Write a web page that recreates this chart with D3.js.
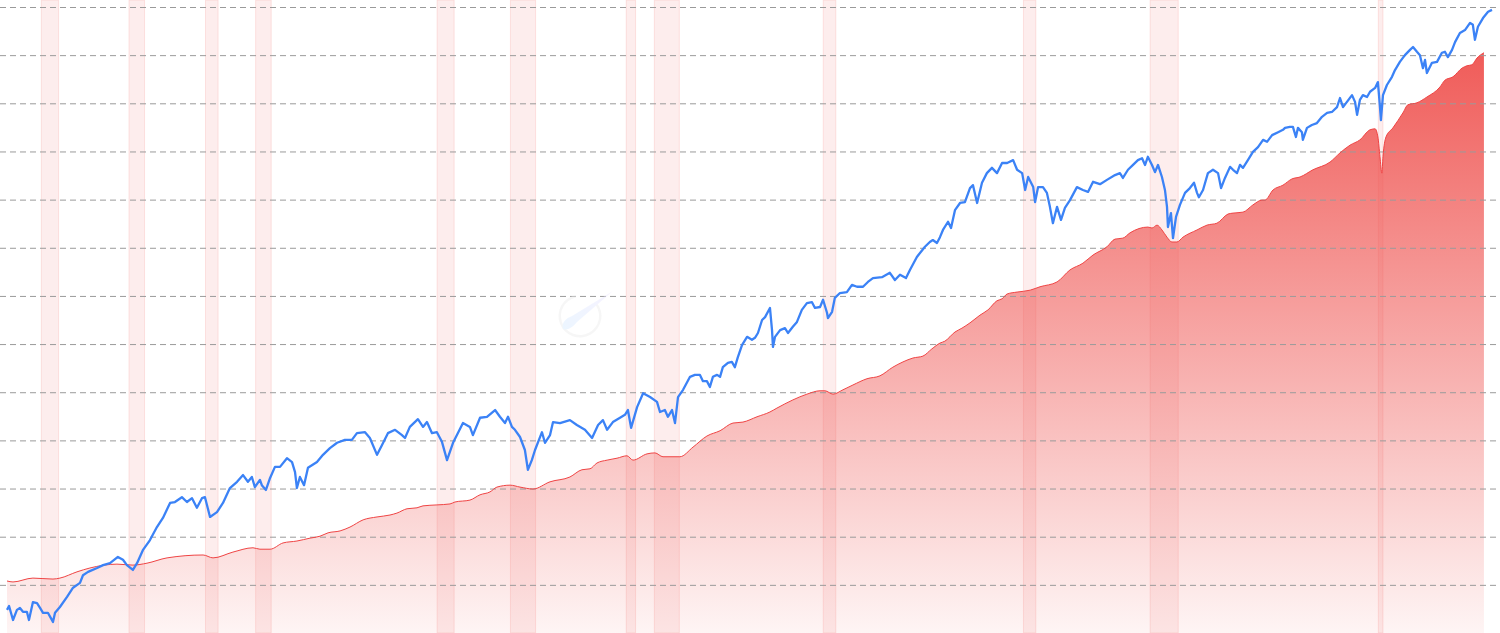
<!DOCTYPE html>
<html>
<head>
<meta charset="utf-8">
<script src="https://cdn.jsdelivr.net/npm/d3@7"></script>
<style>
  html, body { margin: 0; padding: 0; background: #ffffff; }
  svg { display: block; }
</style>
</head>
<body>
<svg id="chart" width="1500" height="633"></svg>
<script>
// ---- Data ----
// Recession periods (decimal years)
const recessionStart = [1948.83, 1953.50, 1957.58, 1960.25, 1969.92, 1973.83, 1980.00, 1981.50, 1990.50, 2001.17, 2007.92, 2020.08];
const recessionEnd   = [1949.75, 1954.33, 1958.25, 1961.08, 1970.83, 1975.17, 1980.50, 1982.83, 1991.17, 2001.83, 2009.42, 2020.33];

// Gridline tick values (hidden axis units)
const gridTicks = [100, 200, 300, 400, 500, 600, 700, 800, 900, 1000, 1100, 1200, 1300];

// Blue series (index line)
const blueYears = [1947.00,1947.11,1947.32,1947.53,1947.69,1947.85,1948.06,1948.17,1948.38,1948.60,
1948.76,1948.92,1949.18,1949.45,1949.56,1949.82,1950.20,1950.52,1950.89,1951.05,
1951.32,1951.80,1952.12,1952.49,1952.91,1953.18,1953.39,1953.71,1953.93,1954.24,
1954.62,1954.99,1955.31,1955.69,1955.95,1956.32,1956.59,1956.86,1957.12,1957.39,
1957.55,1957.82,1958.19,1958.51,1958.88,1959.26,1959.58,1959.84,1960.05,1960.21,
1960.48,1960.58,1960.80,1961.02,1961.28,1961.55,1961.92,1962.19,1962.35,1962.45,
1962.61,1962.83,1963.04,1963.52,1963.84,1964.21,1964.59,1965.01,1965.38,1965.65,
1966.08,1966.34,1966.72,1966.98,1967.30,1967.68,1968.05,1968.21,1968.47,1968.90,
1969.17,1969.38,1969.65,1969.91,1970.18,1970.45,1970.77,1971.30,1971.67,1971.83,
1972.21,1972.58,1973.01,1973.27,1973.54,1973.70,1973.91,1974.07,1974.34,1974.60,
1974.76,1974.97,1975.14,1975.51,1975.67,1975.94,1976.10,1976.47,1977.00,1977.37,
1977.80,1978.18,1978.50,1978.76,1978.98,1979.29,1979.67,1979.93,1980.09,1980.26,
1980.58,1980.90,1981.27,1981.64,1981.80,1982.06,1982.22,1982.44,1982.60,1982.76,
1983.03,1983.40,1983.66,1983.93,1984.09,1984.30,1984.46,1984.62,1984.84,1985.00,
1985.15,1985.42,1985.63,1985.79,1985.95,1986.17,1986.44,1986.70,1986.86,1987.02,
1987.24,1987.40,1987.66,1987.77,1987.82,1987.93,1988.20,1988.46,1988.62,1988.88,
1989.10,1989.36,1989.63,1989.90,1990.06,1990.33,1990.49,1990.70,1990.75,1990.97,
1991.12,1991.39,1991.76,1992.03,1992.30,1992.62,1992.88,1993.15,1993.63,1994.05,
1994.32,1994.59,1994.91,1995.12,1995.49,1995.92,1996.18,1996.34,1996.56,1996.72,
1996.88,1997.15,1997.31,1997.52,1997.79,1998.05,1998.32,1998.48,1998.70,1998.96,
1999.22,1999.49,1999.76,2000.03,2000.30,2000.62,2000.83,2001.10,2001.26,2001.42,
2001.69,2001.79,2001.95,2002.21,2002.42,2002.58,2002.74,2002.96,2003.17,2003.38,
2003.65,2004.02,2004.34,2004.61,2004.88,2005.25,2005.62,2006.05,2006.31,2006.47,
2006.74,2007.01,2007.27,2007.49,2007.65,2007.80,2008.02,2008.18,2008.34,2008.55,
2008.71,2008.82,2008.87,2009.03,2009.14,2009.30,2009.51,2009.78,2010.04,2010.26,
2010.42,2010.52,2010.74,2011.00,2011.27,2011.54,2011.70,2011.91,2012.18,2012.34,
2012.55,2012.71,2012.87,2013.13,2013.40,2013.67,2013.94,2014.15,2014.42,2014.74,
2015.00,2015.11,2015.37,2015.53,2015.69,2015.80,2016.01,2016.06,2016.28,2016.54,
2016.81,2017.08,2017.35,2017.61,2017.88,2018.04,2018.20,2018.41,2018.68,2018.84,
2018.95,2019.10,2019.26,2019.48,2019.64,2019.91,2020.06,2020.17,2020.22,2020.33,
2020.54,2020.81,2020.97,2021.23,2021.50,2021.77,2021.93,2022.14,2022.30,2022.46,
2022.57,2022.67,2022.94,2023.21,2023.47,2023.63,2023.79,2024.01,2024.17,2024.43,
2024.70,2024.97,2025.12,2025.23,2025.39,2025.66,2025.93,2026.14];

const blueValues = [48,56,27,48,52,44,44,27,64,62,
52,42,42,23,42,54,75,94,104,120,
127,135,141,145,158,152,141,131,145,172,
193,220,239,270,272,282,272,280,260,280,
282,241,251,270,301,314,328,314,324,303,
318,307,297,322,345,345,363,355,334,301,
324,307,343,355,370,384,395,401,401,415,
417,405,370,390,415,422,411,405,428,444,
428,438,415,417,397,359,395,436,428,411,
447,449,463,449,436,449,428,422,407,380,
339,359,380,417,395,411,438,436,442,432,
422,405,432,442,422,438,447,453,463,426,
469,498,490,480,459,463,449,463,436,490,
505,532,536,536,523,523,511,532,536,532,
552,561,563,552,573,598,615,609,613,623,
650,656,675,629,594,615,629,633,623,636,
646,671,685,687,675,677,692,665,654,667,
696,706,708,723,719,719,729,737,739,748,
733,744,737,754,781,802,812,816,810,822,
837,854,841,878,893,895,924,930,893,935,
955,966,955,976,976,982,962,955,920,947,
926,895,926,926,914,885,851,885,858,883,
899,926,920,916,937,932,941,951,955,945,
962,972,982,986,972,989,972,957,972,947,
920,885,843,872,820,864,889,914,924,935,
914,905,920,955,962,955,924,945,968,962,
955,972,966,982,999,1009,1024,1020,1034,1040,
1045,1049,1051,1051,1030,1049,1040,1024,1049,1055,
1059,1072,1080,1082,1092,1111,1092,1103,1117,1103,
1076,1107,1117,1113,1124,1132,1144,1092,1065,1117,
1138,1155,1169,1186,1200,1211,1217,1207,1200,1173,
1190,1163,1184,1186,1205,1207,1196,1211,1227,1246,
1252,1267,1263,1232,1259,1277,1290,1294];

// Red series (area)
const redYears = [1947.00,1947.32,1948.38,1949.45,1949.82,1950.73,1951.42,1952.86,1953.71,1954.46,
1955.53,1957.45,1957.98,1959.04,1960.11,1960.48,1961.02,1961.71,1962.45,1963.15,
1963.68,1964.11,1964.75,1965.28,1965.98,1966.72,1967.41,1967.78,1968.32,1968.85,
1969.17,1969.91,1970.61,1970.87,1971.67,1972.21,1972.74,1973.11,1973.81,1974.34,
1975.03,1975.94,1977.00,1977.64,1978.07,1978.44,1978.98,1979.51,1980.04,1980.36,
1981.11,1981.53,1981.96,1982.86,1983.56,1984.30,1985.00,1985.69,1986.22,1986.97,
1987.66,1988.03,1988.88,1989.63,1990.33,1990.59,1991.02,1991.55,1992.08,1992.83,
1993.52,1994.21,1994.75,1995.28,1995.81,1996.29,1996.72,1996.98,1997.52,1997.89,
1998.32,1998.85,1999.28,1999.76,2000.03,2000.30,2000.83,2001.53,2002.05,2002.96,
2003.65,2004.34,2004.88,2005.62,2006.05,2006.47,2006.85,2007.80,2008.02,2008.29,
2008.55,2008.82,2009.08,2009.35,2009.67,2010.42,2010.95,2011.48,2012.07,2012.34,
2012.87,2013.40,2013.88,2014.04,2014.47,2015.00,2015.48,2015.91,2016.60,2017.51,
2018.04,2018.57,2019.10,2019.64,2019.91,2020.06,2020.17,2020.27,2020.33,2020.49,
2020.86,2021.39,2021.66,2022.14,2022.67,2023.37,2023.63,2024.06,2024.54,2024.81,
2025.07,2025.34,2025.71];

const redValues = [108,106,114,112,114,127,135,143,141,145,
156,162,156,168,177,174,174,187,191,197,
201,208,212,220,235,241,245,249,258,260,
264,266,268,272,276,287,293,303,307,303,
299,314,324,339,341,353,359,363,368,359,
372,374,366,366,386,409,420,436,438,449,
459,467,484,496,503,503,496,505,515,528,
534,552,563,571,575,590,602,606,625,633,
644,660,671,690,694,704,708,712,719,729,
754,768,785,802,818,820,831,843,841,847,
837,822,812,812,822,837,847,851,870,872,
874,889,899,899,920,930,943,947,962,978,
997,1013,1024,1045,1047,1030,989,955,989,1030,
1049,1080,1097,1101,1113,1134,1148,1155,1173,1178,
1180,1194,1205];

// ---- Chart ----
const W = 1500, H = 633;
const svg = d3.select('#chart');

const x = d3.scaleLinear().domain([1947, 2026.14]).range([7, 1492]);
const y = d3.scaleLinear().domain([0, 1300]).range([633, 7]);

const blue = d3.zip(blueYears, blueValues);
const red = d3.zip(redYears, redValues);
const recessions = d3.zip(recessionStart, recessionEnd);

const defs = svg.append('defs');
const grad = defs.append('linearGradient')
  .attr('id', 'redFill')
  .attr('gradientUnits', 'userSpaceOnUse')
  .attr('x1', 0).attr('x2', 0)
  .attr('y1', y(d3.max(redValues))).attr('y2', H);
grad.append('stop').attr('offset', '0%').attr('stop-color', '#ef5350').attr('stop-opacity', 0.95);
grad.append('stop').attr('offset', '100%').attr('stop-color', '#ef5350').attr('stop-opacity', 0.06);

const wmGrad = defs.append('linearGradient')
  .attr('id', 'wmGrad').attr('x1', '0%').attr('y1', '100%').attr('x2', '100%').attr('y2', '0%');
wmGrad.append('stop').attr('offset', '0%').attr('stop-color', '#d6ecff');
wmGrad.append('stop').attr('offset', '100%').attr('stop-color', '#ece4ff');

// Recession bands
svg.append('g').selectAll('rect')
  .data(recessions)
  .join('rect')
  .attr('x', d => x(d[0]))
  .attr('y', 0)
  .attr('width', d => x(d[1]) - x(d[0]))
  .attr('height', H)
  .attr('fill', 'rgba(239,83,80,0.10)')
  .attr('stroke', 'rgba(239,83,80,0.14)')
  .attr('stroke-width', 1);

// Red area
const area = d3.area()
  .x(d => x(d[0]))
  .y0(H)
  .y1(d => y(d[1]))
  .curve(d3.curveMonotoneX);
svg.append('path').datum(red)
  .attr('d', area)
  .attr('fill', 'url(#redFill)');

// Gridlines
const gridAxis = d3.axisLeft(y).tickValues(gridTicks).tickSize(-W).tickFormat('');
const gg = svg.append('g').attr('transform', 'translate(0,0)').call(gridAxis);
gg.select('.domain').remove();
gg.selectAll('.tick line')
  .attr('stroke', '#9a9a9a')
  .attr('stroke-width', 1)
  .attr('stroke-dasharray', '6,4');

// Red line
const redLine = d3.line()
  .x(d => x(d[0]))
  .y(d => y(d[1]))
  .curve(d3.curveMonotoneX);
svg.append('path').datum(red)
  .attr('d', redLine)
  .attr('fill', 'none')
  .attr('stroke', '#ef4444')
  .attr('stroke-width', 1);

// Blue line
const blueLine = d3.line()
  .x(d => x(d[0]))
  .y(d => y(d[1]));
svg.append('path').datum(blue)
  .attr('d', blueLine)
  .attr('fill', 'none')
  .attr('stroke', '#3b82f6')
  .attr('stroke-width', 2.3)
  .attr('stroke-linejoin', 'round');

// Faint watermark logo
const wm = svg.append('g').attr('opacity', 0.45);
wm.append('path')
  .attr('d', d3.arc()({innerRadius: 19, outerRadius: 21.5, startAngle: 0.9, endAngle: 2 * Math.PI - 0.2}))
  .attr('transform', 'translate(580,316)')
  .attr('fill', '#ececec');
wm.append('path')
  .attr('d', 'M563,329 C561,323 566,318 572,316 L613,291 L577,322 C573,327 567,331 563,329 Z')
  .attr('fill', 'url(#wmGrad)');
</script>
</body>
</html>
